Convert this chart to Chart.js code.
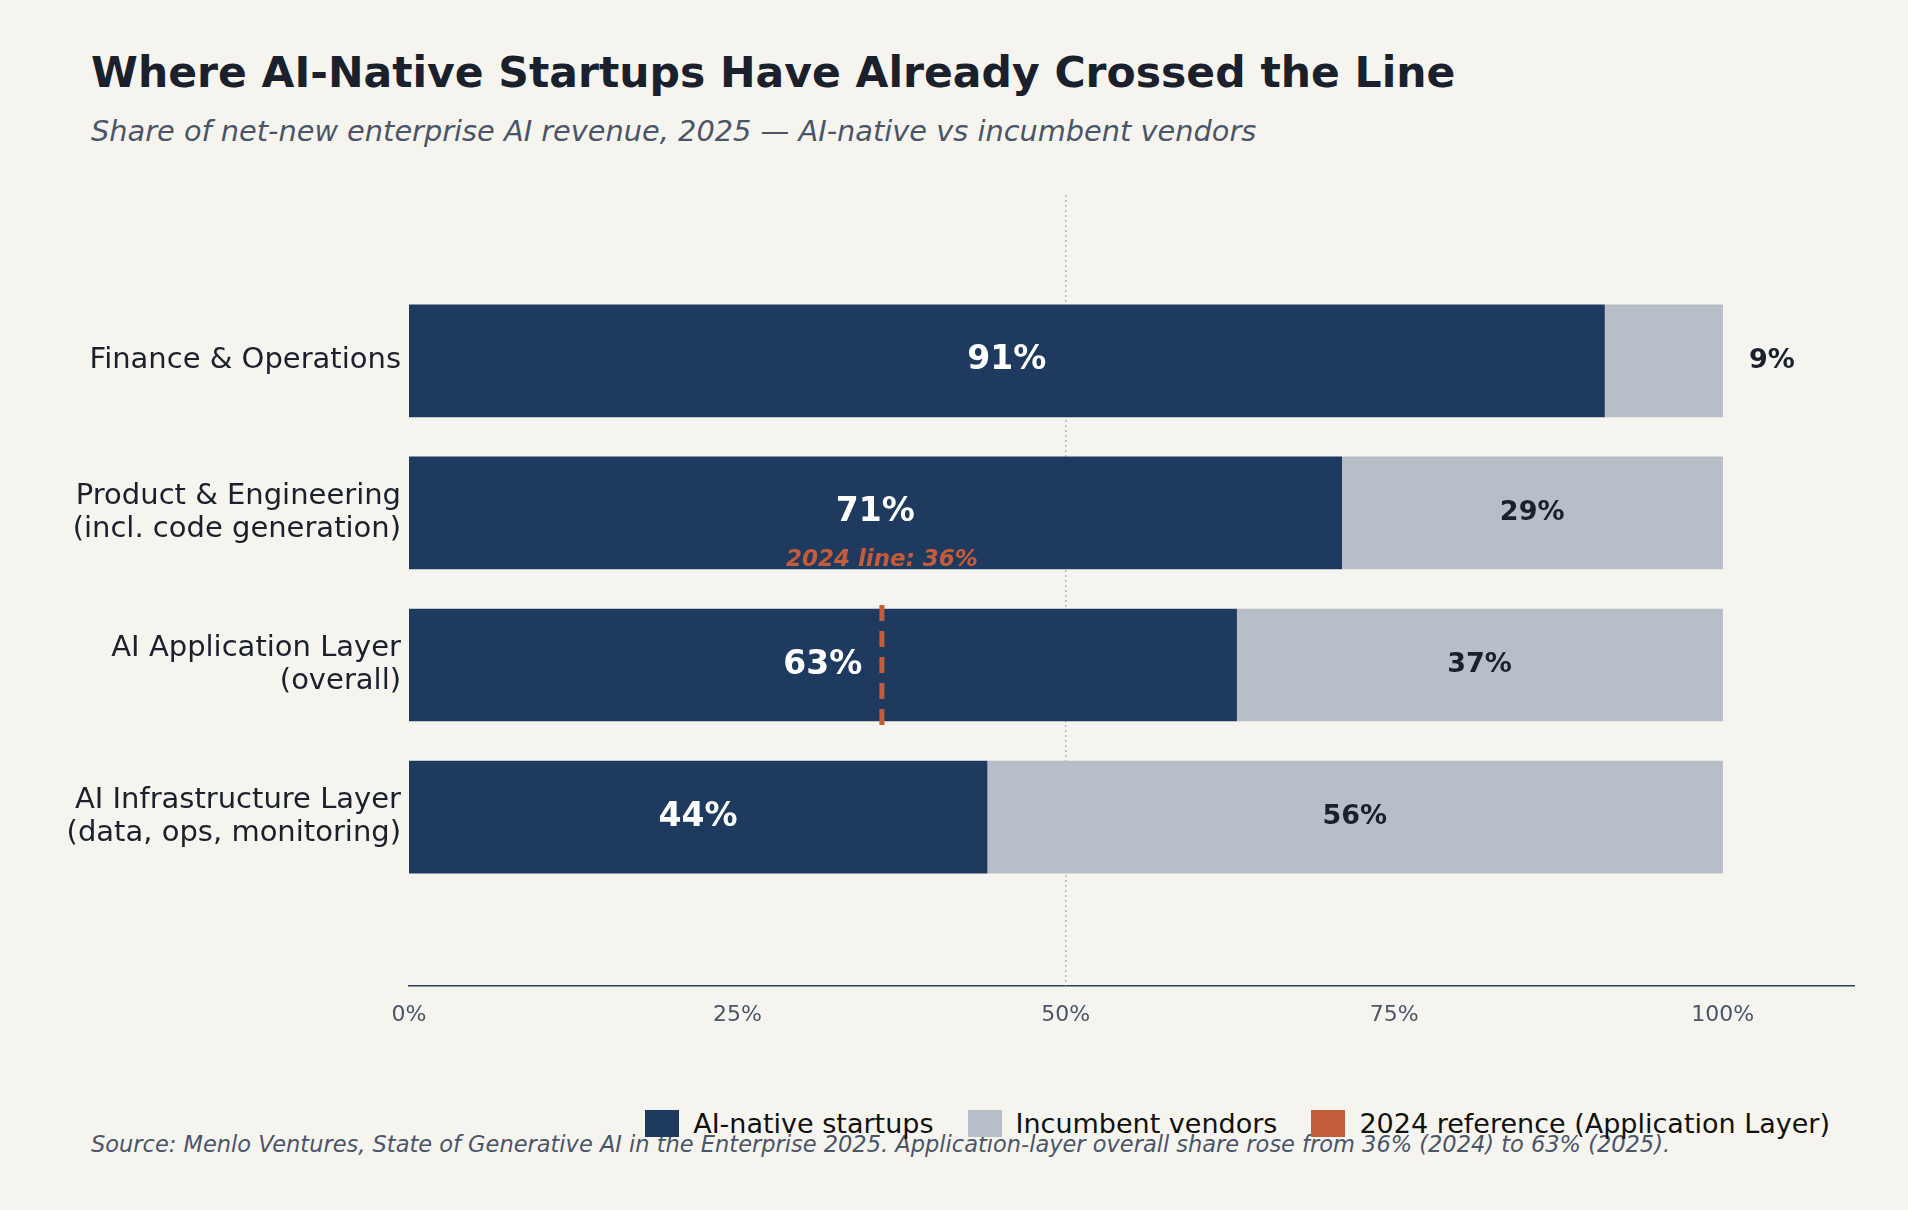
<!DOCTYPE html>
<html>
<head>
<meta charset="utf-8">
<script src="https://cdn.jsdelivr.net/npm/chart.js@4"></script>
<style>
  body { margin: 0; background: #f6f4ee; font-family: "DejaVu Sans", sans-serif; }
  #wrap { position: relative; width: 1908px; height: 1210px; }
  #title { position: absolute; left: 91px; top: 48px; font-size: 42.5px; font-weight: bold; color: #1a202c; }
  #sub { position: absolute; left: 91px; top: 114px; font-size: 28.8px; font-style: italic; color: #4a5568; }
  #src { position: absolute; left: 91px; top: 1131px; font-size: 22.5px; font-style: italic; color: #4a5568; }
  #legend { position: absolute; right: 78px; top: 1108px; display: flex; gap: 34px; font-size: 27px; color: #111; }
  #legend span { display: flex; align-items: center; }
  #legend i { display: inline-block; width: 34px; height: 27px; margin-right: 14px; }
  canvas { position: absolute; left: 0; top: 0; }
</style>
</head>
<body>
<div id="wrap">
  <div id="title">Where AI-Native Startups Have Already Crossed the Line</div>
  <div id="sub">Share of net-new enterprise AI revenue, 2025 — AI-native vs incumbent vendors</div>
  <div id="src">Source: Menlo Ventures, State of Generative AI in the Enterprise 2025. Application-layer overall share rose from 36% (2024) to 63% (2025).</div>
  <div id="legend"></div>
  <canvas id="chart" width="1908" height="1050"></canvas>
</div>
<script>
const categories = [
  ["Finance & Operations"],
  ["Product & Engineering", "(incl. code generation)"],
  ["AI Application Layer", "(overall)"],
  ["AI Infrastructure Layer", "(data, ops, monitoring)"]
];
const nativeShare = [91, 71, 63, 44];
const incumbentShare = [9, 29, 37, 56];
const refValue = 36;
const refIndex = 2;
const xTicks = [0, 25, 50, 75, 100];

const NAVY = "#1f3a5f", GREY = "#b8bec8", ORANGE = "#c45c3b";

const legendItems = [["AI-native startups", NAVY], ["Incumbent vendors", GREY], ["2024 reference (Application Layer)", ORANGE]];
document.getElementById("legend").innerHTML = legendItems
  .map((l) => `<span><i style="background:${l[1]}"></i>${l[0]}</span>`).join("");

const overlay = {
  id: "overlay",
  beforeDatasetsDraw(chart) {
    const { ctx, scales: { x }, chartArea } = chart;
    ctx.save();
    ctx.strokeStyle = "#999";
    ctx.lineWidth = 1;
    ctx.setLineDash([2, 3]);
    ctx.beginPath();
    ctx.moveTo(x.getPixelForValue(50), chartArea.top);
    ctx.lineTo(x.getPixelForValue(50), chartArea.bottom);
    ctx.stroke();
    ctx.restore();
  },
  afterDatasetsDraw(chart) {
    const { ctx, scales: { x, y } } = chart;
    ctx.save();
    ctx.textBaseline = "middle";
    nativeShare.forEach((v, i) => {
      const cy = y.getPixelForValue(i);
      ctx.fillStyle = "#fff";
      ctx.font = "bold 33px 'DejaVu Sans'";
      ctx.textAlign = "center";
      ctx.fillText(v + "%", x.getPixelForValue(v / 2), cy);
      const w = incumbentShare[i];
      ctx.fillStyle = "#1a202c";
      ctx.font = "bold 27px 'DejaVu Sans'";
      if (w < 15) {
        ctx.textAlign = "left";
        ctx.fillText(w + "%", x.getPixelForValue(102), cy);
      } else {
        ctx.fillText(w + "%", x.getPixelForValue(v + w / 2), cy);
      }
    });
    const rx = x.getPixelForValue(refValue);
    const ry = y.getPixelForValue(refIndex);
    ctx.strokeStyle = ORANGE;
    ctx.lineWidth = 5;
    ctx.setLineDash([16, 10]);
    ctx.beginPath();
    ctx.moveTo(rx, ry - 60);
    ctx.lineTo(rx, ry + 60);
    ctx.stroke();
    ctx.fillStyle = ORANGE;
    ctx.font = "italic bold 23px 'DejaVu Sans'";
    ctx.textAlign = "center";
    ctx.fillText("2024 line: " + refValue + "%", rx, ry - 105);
    ctx.restore();
  }
};

new Chart(document.getElementById("chart"), {
  type: "bar",
  data: {
    datasets: [
      {
        label: "AI-native startups",
        data: nativeShare.map((v, i) => ({ y: i, x: [0, v] })),
        backgroundColor: NAVY,
        barThickness: 112,
        grouped: false
      },
      {
        label: "Incumbent vendors",
        data: incumbentShare.map((v, i) => ({ y: i, x: [nativeShare[i], nativeShare[i] + v] })),
        backgroundColor: GREY,
        barThickness: 112,
        grouped: false
      }
    ]
  },
  options: {
    indexAxis: "y",
    responsive: false,
    animation: false,
    layout: { padding: { left: 0, right: 54, top: 195, bottom: 0 } },
    plugins: { legend: { display: false }, tooltip: { enabled: false } },
    scales: {
      x: {
        type: "linear",
        min: 0,
        max: 110,
        bounds: "data",
        afterBuildTicks: (s) => { s.ticks = xTicks.map((v) => ({ value: v })); },
        afterFit: (s) => { s.height = 64; },
        grid: { display: false },
        border: { color: "#2d3e5c", width: 1.5 },
        ticks: { color: "#4a5568", font: { size: 22, family: "DejaVu Sans" }, callback: (v) => v + "%", padding: 8 }
      },
      y: {
        type: "linear",
        reverse: true,
        min: -0.44,
        max: 3.46,
        bounds: "data",
        afterBuildTicks: (s) => { s.ticks = categories.map((c, i) => ({ value: i })); },
        afterFit: (s) => { s.width = 409; },
        grid: { display: false },
        border: { display: false },
        ticks: { color: "#1a202c", font: { size: 29, family: "DejaVu Sans", lineHeight: 1.15 }, padding: 0, callback: (v) => categories[v] }
      }
    }
  },
  plugins: [overlay]
});
</script>
</body>
</html>
